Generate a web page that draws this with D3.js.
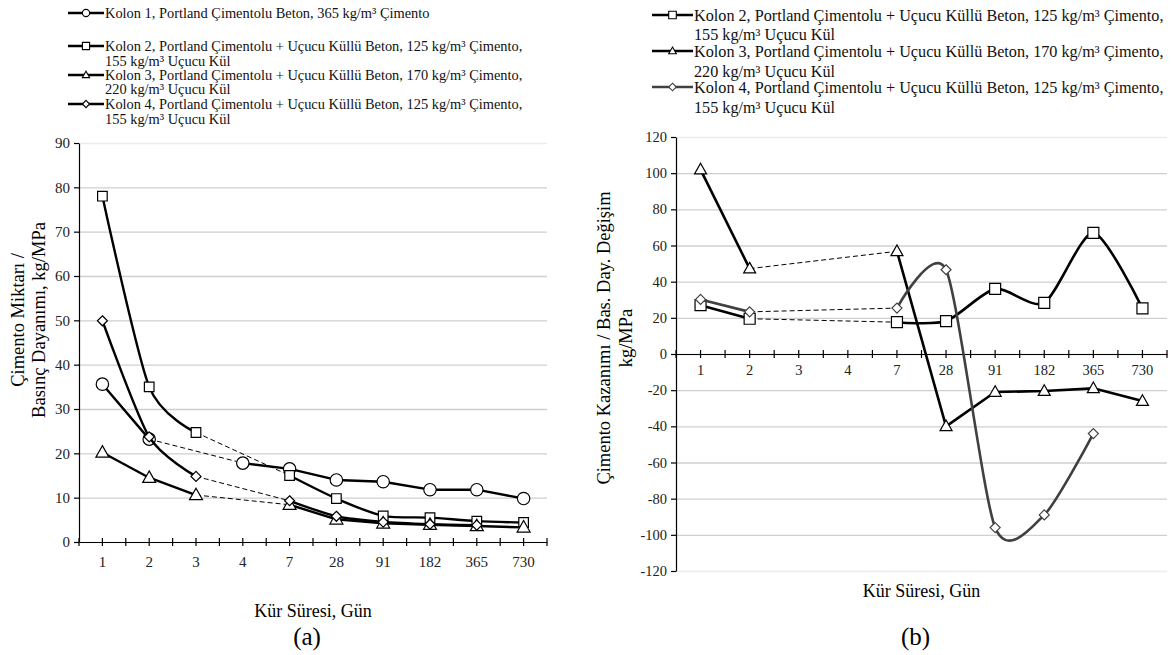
<!DOCTYPE html>
<html>
<head>
<meta charset="utf-8">
<script src="https://cdn.jsdelivr.net/npm/d3@7"></script>
<style>
	body { margin: 0; background: #fff; }
	svg { font-family: 'Liberation Serif', 'Times New Roman', serif; }
</style>
</head>
<body>
<svg width="1171" height="655"></svg>
<script>
// kür süreleri (gün)
const days = ["1", "2", "3", "4", "7", "28", "91", "182", "365", "730"];

// (a) Çimento miktarı / basınç dayanımı, kg/MPa
const aKolon1 = [35.6, 23.2, null, 17.8, 16.5, 14.0, 13.6, 11.8, 11.8, 9.8];
const aKolon2 = [78.0, 35.0, 24.7, null, 15.0, 9.8, 5.9, 5.5, 4.7, 4.4];
const aKolon3 = [20.2, 14.5, 10.6, null, 8.4, 5.1, 4.2, 3.9, 3.6, 3.3];
const aKolon4 = [49.9, 23.7, 14.8, null, 9.3, 5.8, 4.5, 4.0, 3.8, null];

// (b) Çimento kazanımı / bas. day. değişim, kg/MPa
const bKolon2 = [27.0, 19.5, null, null, 17.6, 18.2, 36.0, 28.3, 67.0, 25.2];
const bKolon3 = [102.0, 47.2, null, null, 56.8, -40.0, -21.0, -20.5, -19.0, -26.0];
const bKolon4 = [30.2, 23.3, null, null, 25.4, 46.6, -96.0, -89.0, -44.0, null];

const yTicksA = d3.range(0, 91, 10);
const yTicksB = d3.range(-120, 121, 20);

const legendA = [
	["Kolon 1, Portland Çimentolu Beton, 365 kg/m³ Çimento"],
	["Kolon 2, Portland Çimentolu + Uçucu Küllü Beton, 125 kg/m³ Çimento,", "155 kg/m³ Uçucu Kül"],
	["Kolon 3, Portland Çimentolu + Uçucu Küllü Beton, 170 kg/m³ Çimento,", "220 kg/m³ Uçucu Kül"],
	["Kolon 4, Portland Çimentolu + Uçucu Küllü Beton, 125 kg/m³ Çimento,", "155 kg/m³ Uçucu Kül"]
];
const legendB = legendA.slice(1);

let svg = d3.select('svg');

function markerPath(type, h) {
	if (type == 'circle') return `M${-h},0A${h},${h} 0 1,0 ${h},0A${h},${h} 0 1,0 ${-h},0Z`;
	if (type == 'square') return `M${-h},${-h}H${h}V${h}H${-h}Z`;
	if (type == 'triangle') return `M0,${-h * 1.05}L${h},${h * 0.72}L${-h},${h * 0.72}Z`;
	return `M0,${-h}L${h},0L0,${h}L${-h},0Z`;
}

function drawChart(cfg) {
	let x = d3.scaleBand().domain(days).range([cfg.x0, cfg.x1]);
	let y = d3.scaleLinear().domain(cfg.yDomain).range([cfg.yBottom, cfg.yTop]);
	let bw = x.bandwidth();
	let cx = d => x(d) + bw / 2;
	let g = svg.append('g');

	// gridlines
	g.append('g')
		.attr('transform', `translate(${cfg.x0},0)`)
		.call(d3.axisLeft(y).tickValues(cfg.yTicks).tickSize(-(cfg.x1 - cfg.x0)).tickFormat(''))
		.call(s => s.select('.domain').remove())
		.selectAll('line')
		.attr('stroke', d => (d == cfg.yDomain[0] || d == cfg.yDomain[1]) ? '#ececec' : '#cfcfcf')
		.attr('stroke-width', 1.3);

	// y axis
	let gy = g.append('g')
		.attr('transform', `translate(${cfg.x0},0)`)
		.call(d3.axisLeft(y).tickValues(cfg.yTicks).tickFormat(d => String(d))
			.tickSize(5).tickSizeOuter(0).tickPadding(4))
		.attr('font-family', null)
		.attr('font-size', cfg.tickFont);
	gy.select('.domain').attr('stroke', '#000').attr('stroke-width', 1.2);
	gy.selectAll('line').attr('stroke', '#000').attr('stroke-width', 1.2);
	gy.selectAll('text').attr('fill', '#222');

	// x axis
	let yAx = y(0);
	let gx = g.append('g')
		.attr('transform', `translate(0,${yAx})`)
		.call(d3.axisBottom(x).tickSize(0).tickSizeOuter(0).tickPadding(cfg.xPad))
		.attr('font-family', null)
		.attr('font-size', cfg.tickFont);
	gx.select('.domain').attr('stroke', '#000').attr('stroke-width', 1.2);
	gx.selectAll('text').attr('fill', '#222');
	let tickXs = days.map(cx).concat(days.map(d => x(d))).concat([cfg.x1]);
	gx.selectAll('line.tk')
		.data(tickXs)
		.enter()
		.append('line')
		.attr('class', 'tk')
		.attr('x1', d => d).attr('x2', d => d)
		.attr('y1', -4).attr('y2', 4)
		.attr('stroke', '#000')
		.attr('stroke-width', 1.2);

	// dashed connectors across gaps
	cfg.series.forEach(s => {
		let pts = days.map((d, i) => ({ d: d, v: s.values[i] })).filter(p => p.v != null);
		for (let i = 1; i < pts.length; i++) {
			let i0 = days.indexOf(pts[i - 1].d), i1 = days.indexOf(pts[i].d);
			if (i1 - i0 > 1) {
				g.append('line')
					.attr('x1', cx(pts[i - 1].d)).attr('y1', y(pts[i - 1].v))
					.attr('x2', cx(pts[i].d)).attr('y2', y(pts[i].v))
					.attr('stroke', '#000')
					.attr('stroke-width', 1)
					.attr('stroke-dasharray', '5,3');
			}
		}
	});

	// series lines + markers
	cfg.series.forEach(s => {
		let line = d3.line()
			.defined(d => d.v != null)
			.x(d => cx(d.d))
			.y(d => y(d.v))
			.curve(s.smooth ? d3.curveCardinal.tension(0.25) : d3.curveLinear);
		let data = days.map((d, i) => ({ d: d, v: s.values[i] }));
		g.append('path')
			.datum(data)
			.attr('d', line)
			.attr('fill', 'none')
			.attr('stroke', s.color)
			.attr('stroke-width', cfg.lineWidth)
			.attr('stroke-linejoin', 'round');
		g.append('g')
			.selectAll('path')
			.data(data.filter(d => d.v != null))
			.enter()
			.append('path')
			.attr('transform', d => `translate(${cx(d.d)},${y(d.v)})`)
			.attr('d', markerPath(s.marker, s.size))
			.attr('fill', '#fff')
			.attr('stroke', s.color)
			.attr('stroke-width', 1.2);
	});

	// legend
	cfg.legend.forEach((lines, i) => {
		let s = cfg.series[i];
		let ly = cfg.legendRows[i][0];
		g.append('line')
			.attr('x1', cfg.legendX[0]).attr('x2', cfg.legendX[1])
			.attr('y1', ly).attr('y2', ly)
			.attr('stroke', s.color)
			.attr('stroke-width', 2.6);
		g.append('path')
			.attr('transform', `translate(${(cfg.legendX[0] + cfg.legendX[1]) / 2},${ly})`)
			.attr('d', markerPath(s.marker, cfg.legendMarker))
			.attr('fill', '#fff')
			.attr('stroke', s.color)
			.attr('stroke-width', 1.1);
		lines.forEach((t, j) => {
			g.append('text')
				.attr('x', cfg.legendX[1] + 1)
				.attr('y', cfg.legendRows[i][j])
				.attr('dy', '0.35em')
				.attr('font-size', cfg.legendFont)
				.attr('fill', '#111')
				.text(t);
		});
	});

	// axis titles
	let xt = (cfg.x0 + cfg.x1) / 2;
	g.append('text')
		.attr('x', xt).attr('y', cfg.xTitleY)
		.attr('dy', '0.35em')
		.attr('text-anchor', 'middle')
		.attr('font-size', 18)
		.text('Kür Süresi, Gün');
	g.append('text')
		.attr('x', xt - 6).attr('y', 636)
		.attr('dy', '0.35em')
		.attr('text-anchor', 'middle')
		.attr('font-size', 25)
		.text(cfg.label);
	cfg.yTitle.forEach((t, j) => {
		g.append('text')
			.attr('transform', `translate(${cfg.yTitleX[j]},${cfg.yTitleY}) rotate(-90)`)
			.attr('dy', '0.35em')
			.attr('text-anchor', 'middle')
			.attr('font-size', 18.5)
			.text(t);
	});
}

drawChart({
	x0: 79, x1: 547, yTop: 143, yBottom: 542, yDomain: [0, 90], yTicks: yTicksA,
	tickFont: 15, xPad: 14, lineWidth: 2.4,
	series: [
		{ values: aKolon1, marker: 'circle', size: 6.2, color: '#000', smooth: false },
		{ values: aKolon2, marker: 'square', size: 4.8, color: '#000', smooth: true },
		{ values: aKolon3, marker: 'triangle', size: 6.5, color: '#000', smooth: false },
		{ values: aKolon4, marker: 'diamond', size: 5, color: '#000', smooth: true }
	],
	legend: legendA,
	legendX: [68, 104],
	legendRows: [[13], [46, 61], [75, 89], [104, 119]],
	legendFont: 14.4, legendMarker: 3.6,
	xTitleY: 611, label: '(a)',
	yTitle: ['Çimento Miktarı /', 'Basınç Dayanımı, kg/MPa'],
	yTitleX: [18, 39], yTitleY: 320
});

drawChart({
	x0: 676, x1: 1167, yTop: 137, yBottom: 571, yDomain: [-120, 120], yTicks: yTicksB,
	tickFont: 14.5, xPad: 11, lineWidth: 2.6,
	series: [
		{ values: bKolon2, marker: 'square', size: 5.5, color: '#000', smooth: true },
		{ values: bKolon3, marker: 'triangle', size: 6, color: '#000', smooth: false },
		{ values: bKolon4, marker: 'diamond', size: 5, color: '#404040', smooth: true }
	],
	legend: legendB,
	legendX: [652, 693],
	legendRows: [[15, 34], [51, 71], [87, 107]],
	legendFont: 16.2, legendMarker: 3.8,
	xTitleY: 591, label: '(b)',
	yTitle: ['Çimento Kazanımı / Bas. Day. Değişim', 'kg/MPa'],
	yTitleX: [604, 626], yTitleY: 338
});
</script>
</body>
</html>
